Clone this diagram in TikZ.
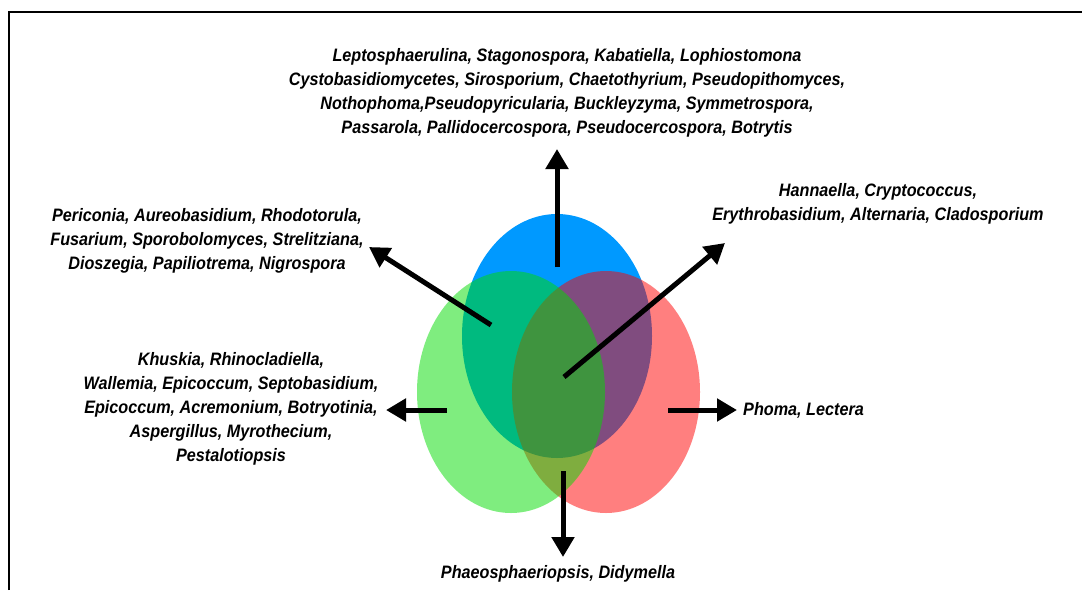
\documentclass[tikz,border=0pt]{standalone}
\usepackage{fontspec}
\setmainfont{Liberation Sans}[FakeStretch=0.9]
\usetikzlibrary{arrows.meta}
\definecolor{vennblue}{RGB}{0,153,255}
\definecolor{vennred}{RGB}{255,0,0}
\definecolor{venngreen}{RGB}{0,220,0}
\tikzset{
  taxa/.style={align=center,inner sep=0pt,font=\fontsize{18}{24}\selectfont\bfseries\itshape},
  fatarrow/.style={line width=5pt,-{Triangle[length=20pt,width=22pt]}},
}

\begin{document}
\begin{tikzpicture}[x=1pt,y=-1pt]
  \useasboundingbox (0,0) rectangle (1082,590);
  \draw[line width=2pt] (9,590) |- (1082,12);
  \fill[vennblue] (557,336) ellipse [x radius=95pt, y radius=122pt];
  \fill[vennred,fill opacity=0.5] (606,392) ellipse [x radius=94pt, y radius=121pt];
  \fill[venngreen,fill opacity=0.5] (511,392) ellipse [x radius=94pt, y radius=121pt];
  \node[taxa] (topTxt) at (567,93) {Leptosphaerulina, Stagonospora, Kabatiella, Lophiostomona\\
    Cystobasidiomycetes, Sirosporium, Chaetothyrium, Pseudopithomyces,\\
    Nothophoma,Pseudopyricularia, Buckleyzyma, Symmetrospora,\\
    Passarola, Pallidocercospora, Pseudocercospora, Botrytis};
  \node[taxa] (ulTxt) at (207,241) {Periconia, Aureobasidium, Rhodotorula,\\
    Fusarium, Sporobolomyces, Strelitziana,\\
    Dioszegia, Papiliotrema, Nigrospora};
  \node[taxa] (urTxt) at (878,204) {Hannaella, Cryptococcus,\\
    Erythrobasidium, Alternaria, Cladosporium};
  \node[taxa] (leftTxt) at (231,409) {Khuskia, Rhinocladiella,\\
    Wallemia, Epicoccum, Septobasidium,\\
    Epicoccum, Acremonium, Botryotinia,\\
    Aspergillus, Myrothecium,\\
    Pestalotiopsis};
  \node[taxa,anchor=west] (rightTxt) at (743,410) {Phoma, Lectera};
  \node[taxa] (botTxt) at (558,574) {Phaeosphaeriopsis, Didymella};
  \coordinate (upS) at (557,267);   \coordinate (upE) at (557,149);
  \coordinate (ulS) at (491,325);   \coordinate (ulE) at (369,247);
  \coordinate (urS) at (564,377);   \coordinate (urE) at (725,243);
  \coordinate (lfS) at (447,410);   \coordinate (lfE) at (386,410);
  \coordinate (rtS) at (668,410);   \coordinate (rtE) at (737,410);
  \coordinate (dnS) at (563,471);   \coordinate (dnE) at (563,557);
  \draw[fatarrow] (upS) -- (upE);
  \draw[fatarrow] (ulS) -- (ulE);
  \draw[fatarrow] (urS) -- (urE);
  \draw[fatarrow] (lfS) -- (lfE);
  \draw[fatarrow] (rtS) -- (rtE);
  \draw[fatarrow] (dnS) -- (dnE);
\end{tikzpicture}
\end{document}
